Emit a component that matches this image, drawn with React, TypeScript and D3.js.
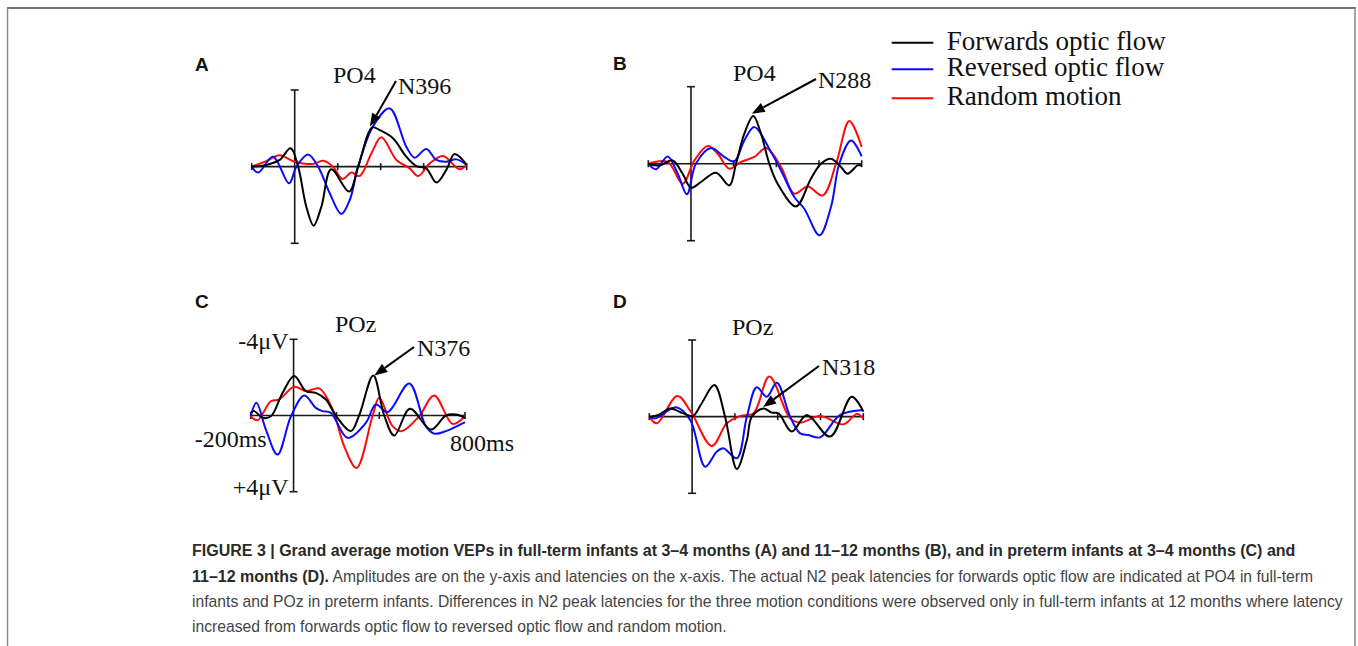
import React from "react";
import * as d3 from "d3";

// time (ms) / amplitude (uV, negative plotted upwards)
type Pt = [number, number];

const timeDomain: [number, number] = [-200, 800];
const ampDomain: [number, number] = [-4, 4];
const timeTicks = [-200, 0, 200, 400, 600, 800];

const seriesNames = ["Forwards optic flow", "Reversed optic flow", "Random motion"];
const seriesColors = ["#000000", "#0a0aff", "#ff0a0a"];

// A: full-term 3-4 months, PO4
const aForwards: Pt[] = [[-200, 0], [-132, -0.09], [-70, -0.35], [-19, -0.96], [16, 0], [54, 2.09], [88, 3.08], [124, 2.09], [170, 0.14], [253, 1.3], [295, 0], [361, -2.05], [395, -1.91], [457, -1.48], [519, -0.52], [566, -0.03], [612, 0.09], [659, 0.83], [705, 0.17], [744, -0.66], [800, -0.09]];
const aReversed: Pt[] = [[-200, 0], [-170, 0.31], [-101, -0.52], [-26, 0.87], [8, 0], [62, -0.64], [109, 0], [163, 1.39], [217, 2.47], [256, 1.74], [295, 0], [364, -2.09], [442, -3.04], [519, -1.04], [558, -0.47], [612, -0.92], [659, -0.35], [705, -0.26], [752, -0.38], [800, -0.09]];
const aRandom: Pt[] = [[-200, 0], [-138, -0.26], [-70, -0.59], [0, -0.26], [85, -0.14], [132, -0.31], [178, 0], [222, 0.64], [264, 0.31], [302, 0.49], [357, -0.7], [403, -1.53], [473, -0.35], [535, 0.09], [574, 0.49], [628, -0.17], [690, -0.56], [767, 0.14], [800, -0.09]];

// B: full-term 11-12 months, PO4
const bForwards: Pt[] = [[-200, 0], [-148, 0.09], [-86, -0.17], [-39, 0.52], [0, 1.25], [47, 0.95], [117, 0.47], [180, 1.13], [211, 0], [250, -1.56], [292, -2.48], [328, -1.56], [367, 0], [406, 1.04], [492, 2.22], [562, 0.78], [609, 0], [656, -0.26], [703, 0.17], [734, 0.52], [781, 0.09], [800, 0.09]];
const bReversed: Pt[] = [[-200, 0], [-164, 0.29], [-109, -0.38], [-62, 0.52], [-19, 1.59], [23, 0], [94, -0.81], [156, -0.35], [203, -0.12], [250, -1.21], [297, -1.9], [375, -0.61], [422, 0.35], [484, 1.73], [531, 2.34], [602, 3.72], [656, 2.25], [695, 0], [750, -1.21], [800, -0.38]];
const bRandom: Pt[] = [[-200, 0], [-109, -0.09], [-39, 1.04], [16, -0.17], [78, -0.92], [125, -0.52], [180, 0.26], [234, -0.09], [297, -0.35], [352, -0.81], [422, 0.17], [484, 1.56], [547, 1.18], [617, 1.65], [680, 0], [742, -2.22], [800, -0.87]];

// C: preterm 3-4 months, POz
const cForwards: Pt[] = [[-200, -0.14], [-183, -0.23], [-145, 0.12], [-106, 0.04], [-51, -1.19], [3, -2.07], [58, -1.28], [104, -1.19], [151, -0.84], [197, 0], [267, 0.82], [306, 0], [372, -2.1], [423, 0], [470, 1.05], [543, -0.35], [641, 0.74], [711, 0], [757, -0.05], [800, 0.12]];
const cReversed: Pt[] = [[-200, 0.04], [-173, -0.67], [-129, 0.74], [-75, 2.05], [-12, 0.04], [50, -1.05], [104, -0.4], [135, -0.23], [174, -0.14], [252, 1.17], [337, 0.39], [384, -0.58], [439, -0.18], [540, -1.68], [617, 0.56], [656, 0.95], [711, 0.82], [800, 0.35]];
const cRandom: Pt[] = [[-200, 0.04], [-168, 0.25], [-106, -0.75], [-67, -0.84], [3, -1.51], [58, -1.28], [120, -1.42], [182, -0.32], [236, 1.61], [294, 2.75], [369, 0], [400, -0.93], [462, 0.56], [505, 0.82], [586, 0.04], [656, -1.05], [742, 0.44], [800, 0.04]];

// D: preterm 11-12 months, POz
const dForwards: Pt[] = [[-200, 0], [-157, -0.09], [-103, -0.43], [-41, -0.17], [3, -0.03], [45, -0.7], [104, -1.65], [154, 0], [209, 2.73], [256, 1.22], [279, 0], [333, -0.43], [372, -0.21], [404, -0.17], [466, 0.78], [536, -0.09], [645, 1.04], [746, -1.04], [800, -0.26]];
const dReversed: Pt[] = [[-200, 0], [-173, 0.09], [-75, -0.49], [-9, 0.17], [61, 2.61], [115, 1.83], [146, 1.65], [209, 2.17], [256, 0], [302, -1.53], [349, -1.04], [396, -1.77], [458, 0], [505, 0.87], [544, 0.96], [598, 1.08], [692, -0.09], [800, -0.35]];
const dRandom: Pt[] = [[-200, 0], [-165, 0.35], [-69, -1.08], [-6, -0.26], [92, 1.53], [162, 0.35], [224, -0.03], [287, -0.17], [361, -2.09], [458, 0.09], [505, 0.31], [598, -0.03], [707, 0.4], [770, -0.14], [800, 0.09]];

const panelLetters = ["A", "B", "C", "D"];
const electrodes = ["PO4", "PO4", "POz", "POz"];
const peakLabels = ["N396", "N288", "N376", "N318"];
const peakTargets: Pt[] = [[350, -2.1], [285, -2.6], [377, -2.1], [332, -0.5]];
const panelSeries = [
  [aForwards, aReversed, aRandom],
  [bForwards, bReversed, bRandom],
  [cForwards, cReversed, cRandom],
  [dForwards, dReversed, dRandom],
];

const captionBold1 = "FIGURE 3 | Grand average motion VEPs in full-term infants at 3–4 months (A) and 11–12 months (B), and in preterm infants at 3–4 months (C) and";
const captionBold2 = "11–12 months (D).";
const captionLines = [
  " Amplitudes are on the y-axis and latencies on the x-axis. The actual N2 peak latencies for forwards optic flow are indicated at PO4 in full-term",
  "infants and POz in preterm infants. Differences in N2 peak latencies for the three motion conditions were observed only in full-term infants at 12 months where latency",
  "increased from forwards optic flow to reversed optic flow and random motion.",
];

// where each panel sits on the page
const layout = [
  { l: 251.7, r: 466.7, t: 90, b: 243.3, letter: [195, 71], elec: [333, 83], peak: [398, 94], tail: [396, 81] },
  { l: 648.3, r: 861.7, t: 86.7, b: 240.7, letter: [613, 70], elec: [733, 81], peak: [818, 88], tail: [816, 79] },
  { l: 250.7, r: 465, t: 339.3, b: 491.7, letter: [195, 308], elec: [335, 332], peak: [417, 356], tail: [414, 347] },
  { l: 649.3, r: 863.3, t: 340, b: 493.3, letter: [613, 308], elec: [732, 335], peak: [822, 375], tail: [819, 366] },
];

const serif = "'Liberation Serif', 'Times New Roman', serif";
const sans = "'Liberation Sans', Arial, Helvetica, sans-serif";

function Panel({ i }: { i: number }) {
  const L = layout[i];
  const x = d3.scaleLinear().domain(timeDomain).range([L.l, L.r]);
  const y = d3.scaleLinear().domain(ampDomain).range([L.t, L.b]);
  const line = d3
    .line<Pt>()
    .x((d) => x(d[0]))
    .y((d) => y(d[1]))
    .curve(d3.curveCatmullRom.alpha(0.5));
  const x0 = x(0);
  const y0 = y(0);

  // arrow towards the N2 peak
  const [tx, ty] = [x(peakTargets[i][0]), y(peakTargets[i][1])];
  const [sx, sy] = L.tail;
  const ang = Math.atan2(ty - sy, tx - sx);
  const hl = 13, hw = 5;
  const bx = tx - hl * Math.cos(ang), by = ty - hl * Math.sin(ang);
  const head = [
    [tx, ty],
    [bx + hw * Math.sin(ang), by - hw * Math.cos(ang)],
    [bx - hw * Math.sin(ang), by + hw * Math.cos(ang)],
  ];

  return (
    <g>
      <text x={L.letter[0]} y={L.letter[1]} fontFamily={sans} fontWeight="bold" fontSize={19} fill="#111">
        {panelLetters[i]}
      </text>
      <text x={L.elec[0]} y={L.elec[1]} fontFamily={serif} fontSize={24} fill="#111">
        {electrodes[i]}
      </text>
      <text x={L.peak[0]} y={L.peak[1]} fontFamily={serif} fontSize={24} fill="#111">
        {peakLabels[i]}
      </text>

      {/* axes */}
      <g stroke="#1a1a1a" strokeWidth={1.6} fill="none">
        <line x1={x.range()[0]} x2={x.range()[1]} y1={y0} y2={y0} />
        <line x1={x0} x2={x0} y1={y.range()[0]} y2={y.range()[1]} />
        <line x1={x0 - 4} x2={x0 + 4} y1={y.range()[0]} y2={y.range()[0]} />
        <line x1={x0 - 4} x2={x0 + 4} y1={y.range()[1]} y2={y.range()[1]} />
        {timeTicks
          .filter((t) => t !== 0)
          .map((t) => (
            <line key={t} x1={x(t)} x2={x(t)} y1={y0 - 3.5} y2={y0 + 3.5} />
          ))}
      </g>

      {panelSeries[i]
        .map((s, k) => ({ s, k }))
        .reverse()
        .map(({ s, k }) => (
          <path key={k} d={line(s) || ""} fill="none" stroke={seriesColors[k]} strokeWidth={2} strokeLinejoin="round" />
        ))}

      <line x1={sx} y1={sy} x2={bx} y2={by} stroke="#000" strokeWidth={2} />
      <polygon points={head.map((p) => p.join(",")).join(" ")} fill="#000" />

      {i === 2 && (
        <g fontFamily={serif} fontSize={24} fill="#111">
          <text x={x0 - 5} y={y.range()[0] + 10} textAnchor="end">-4μV</text>
          <text x={x0 - 5} y={y.range()[1] + 3} textAnchor="end">+4μV</text>
          <text x={x.range()[0] - 56} y={y0 + 31}>-200ms</text>
          <text x={x.range()[1] - 15} y={y0 + 35}>800ms</text>
        </g>
      )}
    </g>
  );
}

export default function App() {
  const legendY = [42.7, 69.3, 98.3];
  return (
    <svg
      width={1358}
      height={646}
      style={{ position: "absolute", left: 0, top: 0, background: "#fff" }}
    >
      <rect x={0} y={0} width={1358} height={646} fill="#fff" />
      {/* frame */}
      <line x1={7} x2={1356} y1={8} y2={8} stroke="#444" strokeWidth={1.5} />
      <line x1={7.5} x2={7.5} y1={8} y2={646} stroke="#888" strokeWidth={1.5} />
      <line x1={1355} x2={1355} y1={8} y2={646} stroke="#888" strokeWidth={1.5} />

      {[0, 1, 2, 3].map((i) => (
        <Panel key={i} i={i} />
      ))}

      {seriesNames.map((n, k) => (
        <g key={n}>
          <line x1={891.7} x2={933.3} y1={legendY[k]} y2={legendY[k]} stroke={seriesColors[k]} strokeWidth={2} />
          <text x={946.7} y={legendY[k] + 7} fontFamily={serif} fontSize={27} fill="#111">
            {n}
          </text>
        </g>
      ))}

      <g fontFamily={sans} fontSize={15.7} fill="#444">
        <text x={192} y={556} fontWeight="bold" fontSize={16} fill="#2a2a2a">{captionBold1}</text>
        <text x={192} y={582}>
          <tspan fontWeight="bold" fontSize={16} fill="#2a2a2a">{captionBold2}</tspan>
          <tspan>{captionLines[0]}</tspan>
        </text>
        <text x={192} y={607}>{captionLines[1]}</text>
        <text x={192} y={632}>{captionLines[2]}</text>
      </g>
    </svg>
  );
}
